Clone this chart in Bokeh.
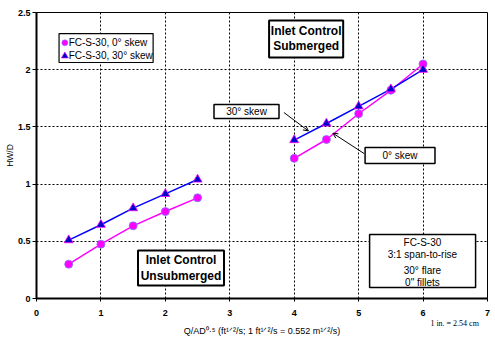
from bokeh.plotting import figure
from bokeh.models import Label, Arrow, OpenHead, FixedTicker, LinearAxis
from bokeh.embed import file_html
from bokeh.resources import INLINE

# ---- data ----
q_unsub = [0.5, 1.0, 1.5, 2.0, 2.5]
hw_unsub_0 = [0.30, 0.475, 0.635, 0.76, 0.88]
hw_unsub_30 = [0.51, 0.645, 0.79, 0.915, 1.04]
q_sub = [4.0, 4.5, 5.0, 5.5, 6.0]
hw_sub_0 = [1.225, 1.39, 1.615, 1.82, 2.05]
hw_sub_30 = [1.385, 1.53, 1.68, 1.83, 2.0]
x_ticks = [0, 1, 2, 3, 4, 5, 6, 7]
y_ticks = [0, 0.5, 1, 1.5, 2, 2.5]
x_title = "Q/AD\u2070\u00b7\u2075 (ft\u00b9\u141f\u00b2/s; 1 ft\u00b9\u141f\u00b2/s = 0.552 m\u00b9\u141f\u00b2/s)"
y_title = "HW/D"
unit_note = "1 in. = 2.54 cm"

FONT = "Liberation Sans"
MAG = "#FF00FF"
BLUE = "#0000FF"

p = figure(width=495, height=339, x_range=(0, 7), y_range=(0, 2.5),
           output_backend="svg", toolbar_location=None,
           min_border_left=36, min_border_right=8, min_border_top=12, min_border_bottom=41)
p.background_fill_color = "white"
p.border_fill_color = "white"
p.outline_line_color = "black"
p.outline_line_width = 1

for ax in (p.xaxis[0], p.yaxis[0]):
    ax.axis_line_width = 2
    ax.axis_line_color = "black"
    ax.major_label_text_font = FONT
    ax.major_label_text_font_size = "9px"
    ax.major_label_text_font_style = "bold"
    ax.major_label_text_color = "black"
    ax.minor_tick_line_color = None
    ax.major_tick_in = 0
    ax.major_tick_line_color = "black"
    ax.axis_label_text_font = FONT
    ax.axis_label_text_font_style = "normal"
    ax.axis_label_text_color = "black"
p.xaxis.ticker = FixedTicker(ticks=x_ticks)
p.yaxis.ticker = FixedTicker(ticks=y_ticks)
p.xaxis.major_tick_out = 3
p.yaxis.major_tick_out = 4
p.xaxis.major_label_standoff = 8
p.yaxis.major_label_standoff = 2
p.yaxis.major_label_overrides = {0: "0"}
p.yaxis.axis_label = y_title
p.yaxis.axis_label_text_font_size = "8.5px"
p.yaxis.axis_label_standoff = 0

# second (label-only) bottom axis carrying the unit note and the x title
ax2 = LinearAxis(ticker=FixedTicker(ticks=[6.49]), major_label_overrides={6.49: unit_note},
                 axis_line_color=None, major_tick_line_color=None, minor_tick_line_color=None,
                 major_tick_out=0, major_tick_in=0,
                 major_label_standoff=0, major_label_text_font="Liberation Serif",
                 major_label_text_font_size="8px", major_label_text_color="black",
                 axis_label=x_title, axis_label_standoff=-5, axis_label_text_font=FONT,
                 axis_label_text_font_size="9px", axis_label_text_font_style="normal",
                 axis_label_text_color="black")
p.add_layout(ax2, "below")

p.xgrid.ticker = FixedTicker(ticks=x_ticks)
p.ygrid.ticker = FixedTicker(ticks=y_ticks)
for g in (p.xgrid[0], p.ygrid[0]):
    g.grid_line_color = "black"
    g.grid_line_dash = "2 2"
    g.grid_line_width = 1

# series lines
p.line(q_unsub, hw_unsub_0, line_color=MAG, line_width=1.5)
p.line(q_sub, hw_sub_0, line_color=MAG, line_width=1.5)
p.line(q_unsub, hw_unsub_30, line_color=BLUE, line_width=1.5)
p.line(q_sub, hw_sub_30, line_color=BLUE, line_width=1.5)

# markers
p.scatter(q_unsub + q_sub, hw_unsub_0 + hw_sub_0, marker="circle", size=8,
          fill_color=MAG, line_color="#7a7aff", line_width=0.8)
p.scatter(q_unsub + q_sub, hw_unsub_30 + hw_sub_30, marker="triangle", size=9,
          fill_color="#0000CC", line_color=MAG, line_width=0.8)

def box(x0, x1, y0, y1, lw=1.5):
    p.quad(left=[x0], right=[x1], bottom=[y0], top=[y1], fill_color="white",
           line_color="black", line_width=lw)

def txt(x, y, s, size="9px", bold=False, align="center", font=FONT):
    p.add_layout(Label(x=x, y=y, text=s, text_font=font, text_font_size=size,
                       text_font_style="bold" if bold else "normal", text_align=align,
                       text_baseline="middle", text_color="black"))

# legend
box(0.35, 1.81, 2.063, 2.316, lw=1.2)
p.scatter([0.44], [2.235], marker="circle", size=6, fill_color=MAG, line_color="#7a7aff", line_width=0.6)
p.scatter([0.44], [2.12], marker="triangle", size=7, fill_color="#0000CC", line_color=MAG, line_width=0.6)
txt(0.5, 2.235, "FC-S-30, 0° skew", size="10px", align="left")
txt(0.5, 2.12, "FC-S-30, 30° skew", size="10px", align="left")

# Inlet Control Submerged
box(3.61, 4.76, 2.107, 2.43, lw=2)
txt(4.185, 2.34, "Inlet Control", size="12px", bold=True)
txt(4.185, 2.205, "Submerged", size="12px", bold=True)

# Inlet Control Unsubmerged
box(1.575, 2.91, 0.114, 0.42, lw=2)
txt(2.243, 0.337, "Inlet Control", size="12px", bold=True)
txt(2.243, 0.2, "Unsubmerged", size="12px", bold=True)

# 30° skew callout
box(2.755, 3.764, 1.573, 1.696, lw=1.5)
txt(3.26, 1.634, "30° skew", size="10px")
p.add_layout(Arrow(x_start=3.84, y_start=1.626, x_end=4.22, y_end=1.465,
                   line_color="black", line_width=1,
                   end=OpenHead(size=5, line_color="black", line_width=1)))

# 0° skew callout
box(5.10, 6.185, 1.18, 1.32, lw=1.5)
txt(5.642, 1.25, "0° skew", size="10px")
p.add_layout(Arrow(x_start=5.085, y_start=1.267, x_end=4.60, y_end=1.445,
                   line_color="black", line_width=1,
                   end=OpenHead(size=5, line_color="black", line_width=1)))

# specimen box
box(5.17, 6.815, 0.096, 0.56, lw=1.5)
txt(5.99, 0.492, "FC-S-30", size="10px")
txt(5.99, 0.385, "3:1 span-to-rise", size="10px")
txt(5.99, 0.245, "30° flare", size="10px")
txt(5.99, 0.142, "0\" fillets", size="10px")

open("out.html", "w").write(file_html(p, INLINE))
